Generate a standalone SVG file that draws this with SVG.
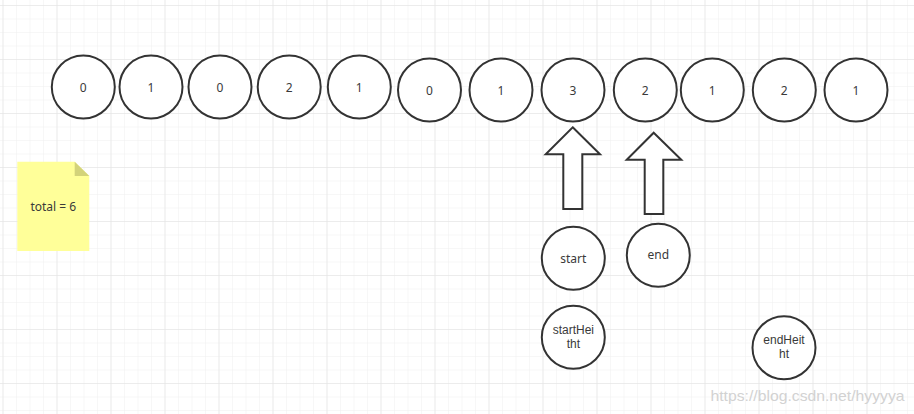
<svg xmlns="http://www.w3.org/2000/svg" width="914" height="414" viewBox="0 0 914 414">
<defs>
<pattern id="minor" x="2.5" y="5" width="13.5" height="13.5" patternUnits="userSpaceOnUse">
<path d="M0 0V13.5M0 0H13.5" fill="none" stroke="#f0f0f0" stroke-width="1"/>
</pattern>
<pattern id="major" x="2.5" y="5" width="54" height="54" patternUnits="userSpaceOnUse">
<path d="M0 0V54M0 0H54" fill="none" stroke="#e2e2e2" stroke-width="1.2"/>
</pattern>
</defs>
<style>
.c{fill:#fff;stroke:#333;stroke-width:2}
.t{font-family:"Noto Sans","Liberation Sans",sans-serif;font-size:12px;fill:#3a3a3a;text-anchor:middle;dominant-baseline:central}
.t2{font-family:"Liberation Sans",sans-serif;font-size:12px;fill:#3a3a3a;text-anchor:middle;dominant-baseline:central}
.a{fill:#fff;stroke:#333;stroke-width:2;stroke-linejoin:miter}
</style>
<rect width="914" height="414" fill="#fff"/>
<rect width="914" height="414" fill="url(#minor)"/>
<rect width="914" height="414" fill="url(#major)"/>
<g id="n0"><ellipse class="c" cx="83.3" cy="87" rx="31.5" ry="31.5"/><text class="t" x="83.3" y="87">0</text></g>
<g id="n1"><ellipse class="c" cx="151" cy="87" rx="31.5" ry="31.5"/><text class="t" x="151" y="87">1</text></g>
<g id="n2"><ellipse class="c" cx="220" cy="87" rx="31.5" ry="31.5"/><text class="t" x="220" y="87">0</text></g>
<g id="n3"><ellipse class="c" cx="289.2" cy="87" rx="31.5" ry="31.5"/><text class="t" x="289.2" y="87">2</text></g>
<g id="n4"><ellipse class="c" cx="359.3" cy="87" rx="31.5" ry="31.5"/><text class="t" x="359.3" y="87">1</text></g>
<g id="n5"><ellipse class="c" cx="429.5" cy="90" rx="31.5" ry="31.5"/><text class="t" x="429.5" y="90">0</text></g>
<g id="n6"><ellipse class="c" cx="501" cy="90" rx="31.5" ry="31.5"/><text class="t" x="501" y="90">1</text></g>
<g id="n7"><ellipse class="c" cx="573" cy="90" rx="31.5" ry="31.5"/><text class="t" x="573" y="90">3</text></g>
<g id="n8"><ellipse class="c" cx="645.3" cy="90" rx="31.5" ry="31.5"/><text class="t" x="645.3" y="90">2</text></g>
<g id="n9"><ellipse class="c" cx="712.3" cy="90" rx="31.5" ry="31.5"/><text class="t" x="712.3" y="90">1</text></g>
<g id="n10"><ellipse class="c" cx="784.3" cy="90" rx="31.5" ry="31.5"/><text class="t" x="784.3" y="90">2</text></g>
<g id="n11"><ellipse class="c" cx="856" cy="90" rx="31.5" ry="31.5"/><text class="t" x="856" y="90">1</text></g>
<g id="arrowStart"><path class="a" d="M572.7 127.3L600 154.3H582.3V209H563.3V154.3H545.7Z"/></g>
<g id="arrowEnd"><path class="a" d="M653.7 132.7L681.3 159.7H663.3V214H644.7V159.7H626.7Z"/></g>
<g id="start"><ellipse class="c" cx="573.3" cy="258.3" rx="31.5" ry="31.5"/><text class="t" x="573.3" y="258.3">start</text></g>
<g id="end"><ellipse class="c" cx="658.3" cy="255.3" rx="31.5" ry="31.5"/><text class="t" x="658.3" y="254.5">end</text></g>
<g id="startHeight"><ellipse class="c" cx="573.3" cy="337.3" rx="31.5" ry="31.5"/><text class="t2" x="573.3" y="330.3">startHei<tspan x="573.3" dy="14">tht</tspan></text></g>
<g id="endHeight"><ellipse class="c" cx="784" cy="347.7" rx="31.5" ry="31.5"/><text class="t2" x="784" y="340.3">endHeit<tspan x="784" dy="14">ht</tspan></text></g>
<g id="note">
<path d="M17.3 161.7H74.7L89.3 176V251H17.3Z" fill="#ffff99"/>
<path d="M74.7 161.7L89.3 176H74.7Z" fill="#d3d37a"/>
<text class="t" x="53.3" y="206">total = 6</text>
</g>
<g id="connectors"></g>
<text x="710.5" y="401" font-family="Liberation Sans,sans-serif" font-size="15" fill="#d2d2d2" textLength="194" lengthAdjust="spacingAndGlyphs">https://blog.csdn.net/hyyyya</text>
</svg>
